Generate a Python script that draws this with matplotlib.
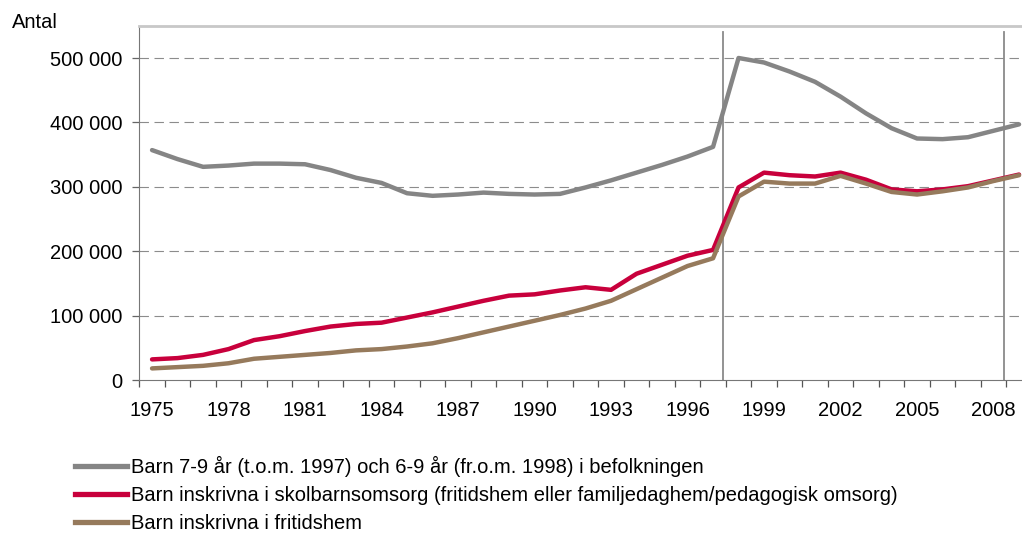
import numpy as np
import matplotlib
matplotlib.use("Agg")
from matplotlib import pyplot as plt
from matplotlib.lines import Line2D
from matplotlib.ticker import FuncFormatter, FixedLocator

plt.rcParams['font.family'] = ['Liberation Sans', 'DejaVu Sans']

# data
years = list(range(1975, 2010))
befolkning = [357, 343, 331, 333, 336, 336, 335, 326, 314, 306,
              290, 286, 288, 291, 289, 288, 289, 299, 310, 322,
              334, 347, 362, 500, 493, 479, 463, 440, 414, 391,
              375, 374, 377, 387, 397]
skolbarnsomsorg = [32, 34, 39, 48, 62, 68, 76, 83, 87, 89,
                   97, 105, 114, 123, 131, 133, 139, 144, 140, 165,
                   179, 193, 202, 299, 322, 318, 316, 322, 311, 296,
                   293, 296, 301, 310, 319]
fritidshem = [18, 20, 22, 26, 33, 36, 39, 42, 46, 48,
              52, 57, 65, 74, 83, 92, 101, 111, 123, 141,
              159, 177, 189, 285, 308, 305, 305, 317, 305, 292,
              288, 293, 299, 309, 318]
labels = ["Barn 7-9 år (t.o.m. 1997) och 6-9 år (fr.o.m. 1998) i befolkningen",
          "Barn inskrivna i skolbarnsomsorg (fritidshem eller familjedaghem/pedagogisk omsorg)",
          "Barn inskrivna i fritidshem"]
colors = ["#858585", "#c8003c", "#967a5c"]
year_ticks = list(range(1975, 2009, 3))
y_ticks = [0, 100000, 200000, 300000, 400000, 500000]
markers = [1997.4, 2008.4]   # vertical lines

fs = 14.5

fig = plt.figure(figsize=(10.22, 5.33), dpi=100)
ax = fig.add_axes([139.3/1022, 153/533, 892.5/1022, 354.2/533])

for vals, c in zip([befolkning, skolbarnsomsorg, fritidshem], colors):
    ax.plot(years, np.array(vals)*1000, color=c, lw=3.2,
            solid_capstyle='round', solid_joinstyle='round', zorder=3)

for m in markers:
    ax.axvline(m, ymin=0, ymax=540000/550000, color="#8a8a8a", lw=1.3, zorder=2)

ax.set_xlim(1974.5, 2009.5)
ax.set_ylim(0, 550000)

ax.set_yticks(y_ticks)
ax.yaxis.set_major_formatter(FuncFormatter(lambda v, p: f"{v:,.0f}".replace(",", " ")))
for v in y_ticks[1:]:
    ax.axhline(v, color="#8c8c8c", lw=0.8, dashes=(8.5, 5), zorder=1)

ax.set_xticks(year_ticks)
ax.set_xticklabels([str(y) for y in year_ticks])
ax.xaxis.set_minor_locator(FixedLocator(np.arange(1974.5, 2010, 1)))
ax.tick_params(axis='x', which='major', length=0, pad=15, labelsize=fs)
ax.tick_params(axis='x', which='minor', length=5, width=0.9, color="#555555", direction='out')
ax.tick_params(axis='y', length=5, width=0.9, color="#666666", pad=7, labelsize=fs)

ax.spines['right'].set_visible(False)
ax.spines['top'].set_color("#c8c8c8")
ax.spines['top'].set_linewidth(2)
ax.spines['left'].set_color("#777777")
ax.spines['bottom'].set_color("#777777")

fig.text(12/1022, 1 - 22/533, "Antal", fontsize=fs, va='center', ha='left')

handles = [Line2D([], [], color=c, lw=3.8) for c in colors]
fig.legend(handles, labels, loc='upper left', bbox_to_anchor=(75/1022, 1 - 456/533),
           frameon=False, fontsize=fs, handlelength=2.6, handletextpad=0.2,
           labelspacing=0.45, borderpad=0, borderaxespad=0)

fig.savefig("out.png", dpi=100)
